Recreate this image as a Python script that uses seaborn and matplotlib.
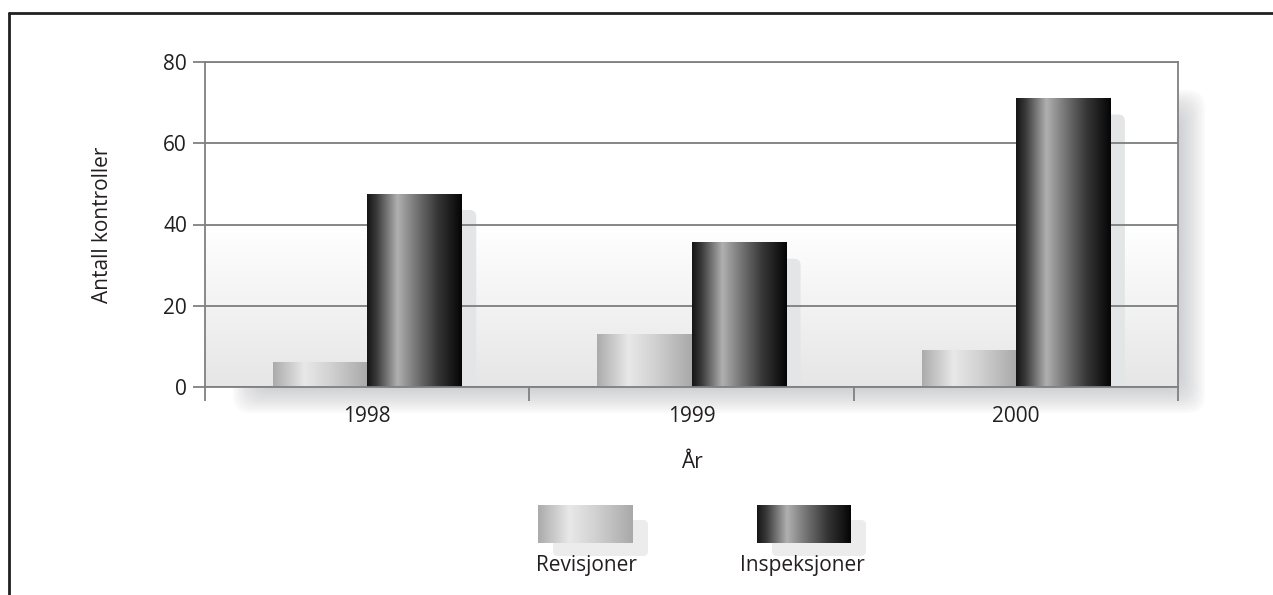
import matplotlib
matplotlib.use("Agg")
import matplotlib.pyplot as plt
import matplotlib.transforms as mtransforms
import numpy as np
import pandas as pd
import seaborn as sns
from matplotlib.colors import LinearSegmentedColormap
from matplotlib.lines import Line2D
from matplotlib.patches import FancyBboxPatch

# data
years = ["1998", "1999", "2000"]
revisjoner = [6, 13, 9]
inspeksjoner = [47.5, 35.5, 71]
series = ["Revisjoner", "Inspeksjoner"]
y_ticks = [0, 20, 40, 60, 80]

W, H, DPI = 1273, 595, 100
TEXT = "#231f20"

sns.set_style("white")
plt.rcParams["font.family"] = ["Open Sans", "DejaVu Sans"]
plt.rcParams["font.size"] = 15

cmaps = {
    "Revisjoner": LinearSegmentedColormap.from_list(
        "rev", [(0, "#ababab"), (0.33, "#e8e8e8"), (0.6, "#d2d2d2"), (1, "#a9a9a9")]),
    "Inspeksjoner": LinearSegmentedColormap.from_list(
        "insp", [(0, "#151515"), (0.1, "#3a3a3a"), (0.32, "#b0b0b0"), (0.5, "#7a7a7a"),
                 (0.75, "#353535"), (1, "#050505")]),
}

df = pd.DataFrame({
    "År": years * 2,
    "Antall": revisjoner + inspeksjoner,
    "Type": [series[0]] * 3 + [series[1]] * 3,
})


def px(x0, y0, x1, y1):
    # reference pixel box (top-left origin) -> figure fraction rect
    return [x0 / W, 1 - y1 / H, (x1 - x0) / W, (y1 - y0) / H]


fig = plt.figure(figsize=(W / DPI, H / DPI), dpi=DPI)

# outer frame (only left and top edges are visible in the reference)
fig.add_artist(Line2D([9 / W, 9 / W], [0, 1 - 13 / H], transform=fig.transFigure, color=TEXT, lw=2))
fig.add_artist(Line2D([9 / W, 1], [1 - 13 / H, 1 - 13 / H], transform=fig.transFigure, color=TEXT, lw=2))

# soft drop shadow behind the plot area
for k in range(14):
    s = 2 * k
    x0, y0, x1, y1 = 233 + s, 90 + s, 1205 - s, 413 - s
    fig.add_artist(FancyBboxPatch(
        (x0, H - y1), x1 - x0, y1 - y0, boxstyle="round,pad=0,rounding_size=18",
        transform=None, facecolor="#9fa1a5", edgecolor="none", alpha=0.045, zorder=-1))

ax = fig.add_axes(px(205, 62, 1178, 387))

sns.barplot(data=df, x="År", y="Antall", hue="Type", hue_order=series, width=0.58,
            palette=["#cccccc", "#333333"], dodge=True, legend=False, ax=ax,
            linewidth=0, saturation=1, zorder=1)

ax.set_xlim(-0.5, 2.5)
ax.set_ylim(0, 80)

# plot area background: white at top, light grey towards the baseline
bg = np.concatenate([np.ones(50), np.linspace(1, 0, 50)])[:, None]
bg_cmap = LinearSegmentedColormap.from_list("bg", ["#e6e6e6", "#ffffff"])
ax.imshow(bg, extent=(0, 1, 0, 1), transform=ax.transAxes, cmap=bg_cmap,
          aspect="auto", origin="upper", zorder=-2, interpolation="bilinear")

# bar shadows and gradient fills
ax_w = (1178 - 205) / 3.0
ax_h = (387 - 62) / 80.0
shadow_tr = ax.transData + mtransforms.ScaledTranslation(15 / DPI, -16 / DPI, fig.dpi_scale_trans)
grad = np.linspace(0, 1, 256)[None, :]
for i, bar in enumerate(ax.patches[:6]):
    name = series[i // 3]
    x0, w, h = bar.get_x(), bar.get_width(), bar.get_height()
    ax.add_patch(FancyBboxPatch(
        (x0, 0), w, h, boxstyle="round,pad=0,rounding_size=0.02",
        mutation_aspect=ax_w / ax_h, transform=shadow_tr,
        facecolor="#e4e5e7", edgecolor="none", zorder=0.3))
    ax.imshow(grad, extent=(x0, x0 + w, 0, h), cmap=cmaps[name], aspect="auto",
              zorder=1.2, interpolation="bilinear")

ax.set_xlim(-0.5, 2.5)
ax.set_ylim(0, 80)
ax.set_yticks(y_ticks)
ax.yaxis.grid(True, color="#7d7d7d", lw=1.3)
ax.set_axisbelow(True)

for sp in ax.spines.values():
    sp.set_color("#808080")
    sp.set_linewidth(1.3)

ax.set_xticks([-0.5, 0.5, 1.5, 2.5], minor=True)
ax.tick_params(axis="x", which="major", bottom=True, length=0, pad=14, labelcolor=TEXT)
ax.tick_params(axis="x", which="minor", bottom=True, length=10, width=1.3,
               color="#808080", direction="out")
ax.tick_params(axis="y", which="major", left=True, length=9, width=1.3,
               color="#808080", direction="out", pad=4, labelcolor=TEXT)

ax.set_xlabel("År", color=TEXT)
ax.set_ylabel("Antall kontroller", color=TEXT)
ax.xaxis.set_label_coords(0.5, -(463 - 387) / 325)
ax.xaxis.label.set_va("center")
ax.yaxis.set_label_coords((103 - 205) / 973, 0.5)
ax.yaxis.label.set_va("center")

# legend below the chart, drawn with the same gradients
legend_boxes = {"Revisjoner": (538, 633, 586), "Inspeksjoner": (757, 851, 802)}
for name in series:
    x0, x1, tx = legend_boxes[name]
    fig.add_artist(FancyBboxPatch(
        (x0 + 15, H - 556), x1 - x0, 36, boxstyle="round,pad=0,rounding_size=5",
        transform=None, facecolor="#ececec", edgecolor="none", zorder=-1))
    sw = fig.add_axes(px(x0, 505, x1, 543))
    sw.imshow(grad, cmap=cmaps[name], aspect="auto", interpolation="bilinear")
    sw.set_axis_off()
    fig.text(tx / W, 1 - 566 / H, name, ha="center", va="center", color=TEXT, fontsize=15)

fig.savefig("out.png", dpi=DPI)
